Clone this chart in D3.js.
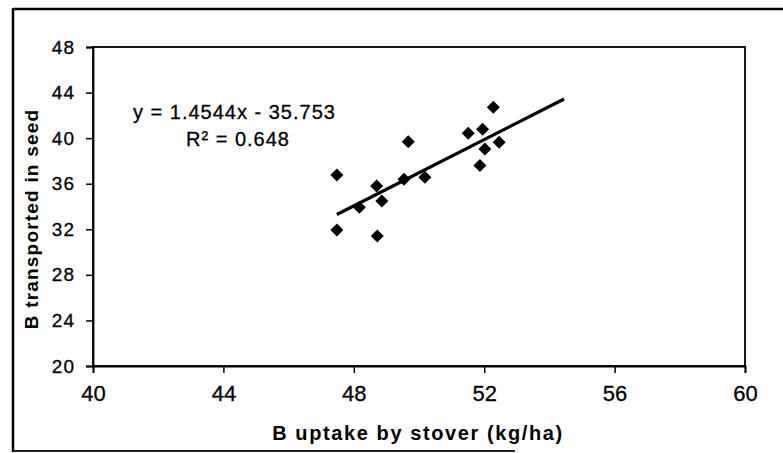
<!DOCTYPE html>
<html>
<head>
<meta charset="utf-8">
<script src="https://cdn.jsdelivr.net/npm/d3@7"></script>
<style>
  html, body { margin: 0; padding: 0; background: #fff; }
  svg { display: block; font-family: "Liberation Sans", Arial, sans-serif; }
</style>
</head>
<body>
<svg id="chart" width="783" height="453"></svg>
<script>
// ---- data ----
const stoverB = [47.48, 47.48, 48.17, 48.70, 48.72, 48.86, 49.54, 49.67, 50.18, 51.51, 51.87, 51.95, 52.02, 52.28, 52.46];
const seedB   = [36.77, 31.94, 33.93, 35.80, 31.41, 34.49, 36.39, 39.69, 36.57, 40.43, 37.59, 40.78, 39.05, 42.71, 39.64];
const xTickValues = [40, 44, 48, 52, 56, 60];
const yTickValues = [20, 24, 28, 32, 36, 40, 44, 48];
const trendSlope = 1.4544;
const trendIntercept = -35.753;
const trendXRange = [47.48, 54.45];
const equationLabel = "y = 1.4544x - 35.753";
const r2Label = "R\u00B2 = 0.648";
const xTitle = "B uptake by stover (kg/ha)";
const yTitle = "B transported in seed";

// ---- layout ----
const svg = d3.select("#chart");
const plot = { left: 93, right: 745, top: 47, bottom: 366 };

const x = d3.scaleLinear().domain([40, 60]).range([plot.left, plot.right]);
const y = d3.scaleLinear().domain([20, 48]).range([plot.bottom, plot.top]);

// outer frame (partial, as in scan)
svg.append("line").attr("x1", 13).attr("y1", 8).attr("x2", 13).attr("y2", 452)
  .attr("stroke", "#000").attr("stroke-width", 2.5);
svg.append("line").attr("x1", 13).attr("y1", 9).attr("x2", 783).attr("y2", 9)
  .attr("stroke", "#000").attr("stroke-width", 2.5);
svg.append("line").attr("x1", 13).attr("y1", 451).attr("x2", 515).attr("y2", 451)
  .attr("stroke", "#222").attr("stroke-width", 2);

// plot area border
svg.append("rect")
  .attr("x", plot.left).attr("y", plot.top)
  .attr("width", plot.right - plot.left).attr("height", plot.bottom - plot.top)
  .attr("fill", "none").attr("stroke", "#000").attr("stroke-width", 1.8);

// axes
const xAxis = svg.append("g")
  .attr("transform", `translate(0,${plot.bottom})`)
  .call(d3.axisBottom(x).tickValues(xTickValues).tickSize(7).tickPadding(12).tickFormat(d3.format("d")));
xAxis.select(".domain").attr("stroke", "#000").attr("stroke-width", 1.8);
xAxis.selectAll(".tick line").attr("stroke", "#000").attr("stroke-width", 1.5);
xAxis.selectAll(".tick text").attr("font-size", 22).attr("fill", "#000")
  .attr("stroke", "#000").attr("stroke-width", 0.3)
  .attr("font-family", "Liberation Sans, Arial, sans-serif");

const yAxis = svg.append("g")
  .attr("transform", `translate(${plot.left},0)`)
  .call(d3.axisLeft(y).tickValues(yTickValues).tickSize(7).tickPadding(11).tickFormat(d3.format("d")));
yAxis.select(".domain").attr("stroke", "#000").attr("stroke-width", 1.8);
yAxis.selectAll(".tick line").attr("stroke", "#000").attr("stroke-width", 1.5);
yAxis.selectAll(".tick text").attr("font-size", 19).attr("fill", "#000")
  .attr("stroke", "#000").attr("stroke-width", 0.3)
  .attr("letter-spacing", 1)
  .attr("font-family", "Liberation Sans, Arial, sans-serif");

// trendline
const trendData = trendXRange.map(v => [v, trendSlope * v + trendIntercept]);
svg.append("path")
  .datum(trendData)
  .attr("d", d3.line().x(d => x(d[0])).y(d => y(d[1])))
  .attr("stroke", "#000").attr("stroke-width", 3.2).attr("fill", "none");

// points (diamonds)
const r = 6.5;
svg.append("g").selectAll("path")
  .data(stoverB.map((v, i) => [v, seedB[i]]))
  .join("path")
  .attr("transform", d => `translate(${x(d[0])},${y(d[1])})`)
  .attr("d", `M0,${-r}L${r},0L0,${r}L${-r},0Z`)
  .attr("fill", "#000");

// equation labels
svg.append("text").attr("x", 133).attr("y", 119)
  .attr("font-size", 20).attr("letter-spacing", 1).attr("fill", "#000")
  .attr("stroke", "#000").attr("stroke-width", 0.3)
  .text(equationLabel);
svg.append("text").attr("x", 186).attr("y", 146)
  .attr("font-size", 20).attr("letter-spacing", 1).attr("fill", "#000")
  .attr("stroke", "#000").attr("stroke-width", 0.3)
  .text(r2Label);

// axis titles
svg.append("text")
  .attr("x", 418).attr("y", 440)
  .attr("text-anchor", "middle")
  .attr("font-size", 20).attr("font-weight", "bold").attr("letter-spacing", 1.6)
  .attr("fill", "#000")
  .text(xTitle);

svg.append("text")
  .attr("transform", `translate(38,219) rotate(-90)`)
  .attr("text-anchor", "middle")
  .attr("font-size", 19).attr("font-weight", "bold").attr("letter-spacing", 1.2)
  .attr("fill", "#000")
  .text(yTitle);
</script>
</body>
</html>
